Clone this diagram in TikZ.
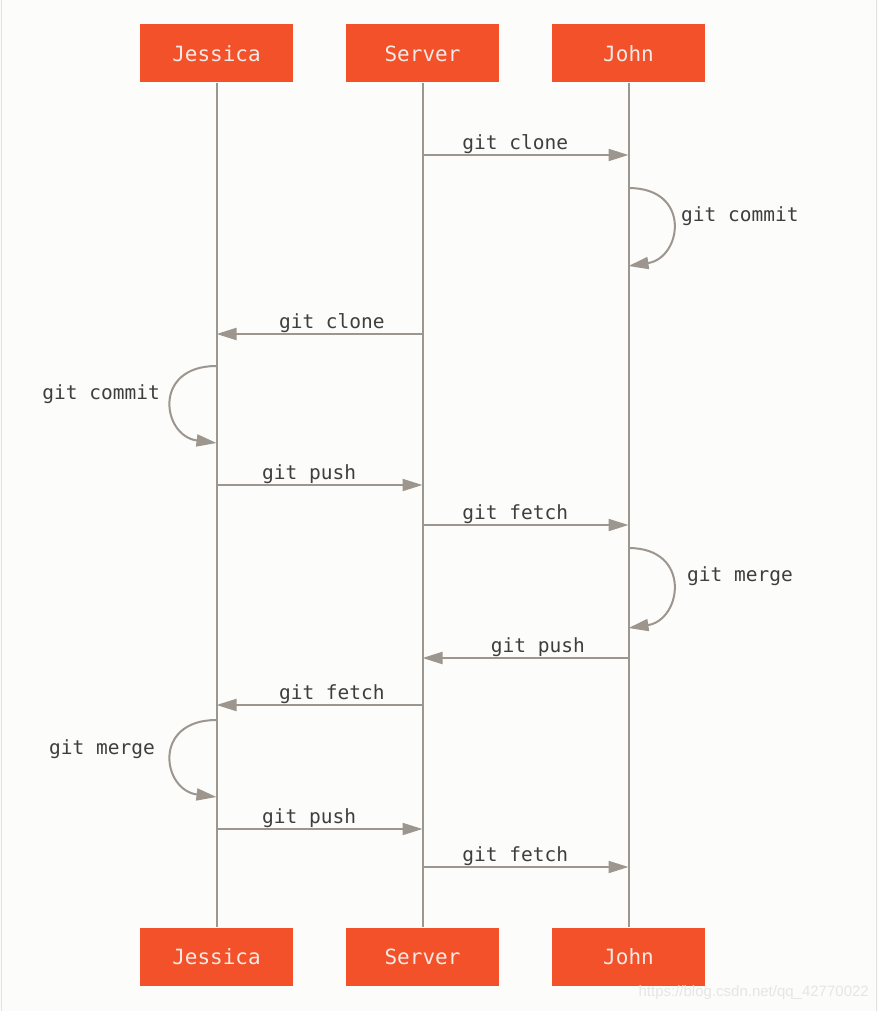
\documentclass[tikz,border=0pt]{standalone}
\usepackage{fontspec}
\setmonofont{DejaVu Sans Mono}
\newfontfamily\wmfont{Liberation Sans}
\usetikzlibrary{arrows.meta}
\definecolor{gitorange}{HTML}{F35129}
\definecolor{linegray}{HTML}{9C968E}
\definecolor{labeltext}{HTML}{3E3E3E}
\definecolor{boxtext}{HTML}{F2EAE6}
\definecolor{bg}{HTML}{FCFCFA}
\definecolor{edgegray}{HTML}{E2E2DE}
\definecolor{wmgray}{HTML}{E6E6E4}
\tikzset{
  actor/.style={fill=gitorange, draw=none, minimum width=153pt, minimum height=58pt,
    inner sep=0pt, text=boxtext, font=\fontsize{21}{24}\selectfont\ttfamily},
  lifeline/.style={draw=linegray, line width=2pt},
  msg/.style={draw=linegray, line width=2pt, -{Triangle[length=20pt,width=12pt]}, fill=none},
  lbl/.style={text=labeltext, font=\fontsize{19.5}{22}\selectfont\ttfamily, inner sep=0.5pt},
}
\begin{document}
\begin{tikzpicture}[x=1pt,y=-1pt]
\fill[bg] (0,0) rectangle (878,1011);
\useasboundingbox (0,0) rectangle (878,1011);
\draw[edgegray, line width=1.2pt] (1.5,0) -- (1.5,1011);
\draw[edgegray, line width=1.2pt] (876.5,0) -- (876.5,1011);

% actors
\node[actor] (jt) at (216.5,53.5) {Jessica};
\node[actor] (st) at (422.5,53.5) {Server};
\node[actor] (ot) at (628.5,53.5) {John};
\node[actor] (jb) at (216.5,956.5) {Jessica};
\node[actor] (sb) at (422.5,956.5) {Server};
\node[actor] (ob) at (628.5,956.5) {John};

% lifelines
\draw[lifeline] (jt.south) -- (jb.north);
\draw[lifeline] (st.south) -- (sb.north);
\draw[lifeline] (ot.south) -- (ob.north);

% message coordinates
\foreach \n/\y in {1/155,2/334,3/485,4/525,5/658,6/705,7/829,8/867}{
  \coordinate (j\n) at (216.5,\y);
  \coordinate (s\n) at (422.5,\y);
  \coordinate (o\n) at (628.5,\y);
}
\coordinate (oc1) at (628.5,188);
\coordinate (oc2) at (628.5,266);
\coordinate (jc1) at (216.5,366);
\coordinate (jc2) at (216.5,443);
\coordinate (om1) at (628.5,548);
\coordinate (om2) at (628.5,628);
\coordinate (jm1) at (216.5,720);
\coordinate (jm2) at (216.5,797);

% messages
\draw[msg] (s1) -- node[lbl, above, pos=0.45] {git clone} (o1);
\draw[msg] (oc1) .. controls (692,188) and (682,258) .. (oc2);
\node[lbl, anchor=west, inner sep=0pt] (lc1) at (681,216) {git commit};
\draw[msg] (s2) -- node[lbl, above, pos=0.44] {git clone} (j2);
\draw[msg] (jc1) .. controls (152,366) and (162,436) .. (jc2);
\node[lbl, anchor=east, inner sep=0pt] (lc2) at (160,394) {git commit};
\draw[msg] (j3) -- node[lbl, above, pos=0.45] {git push} (s3);
\draw[msg] (s4) -- node[lbl, above, pos=0.45] {git fetch} (o4);
\draw[msg] (om1) .. controls (692,548) and (682,620) .. (om2);
\node[lbl, anchor=west, inner sep=0pt] (lm1) at (687,576) {git merge};
\draw[msg] (o5) -- node[lbl, above, pos=0.44] {git push} (s5);
\draw[msg] (s6) -- node[lbl, above, pos=0.44] {git fetch} (j6);
\draw[msg] (jm1) .. controls (152,720) and (162,790) .. (jm2);
\node[lbl, anchor=east, inner sep=0pt] (lm2) at (155,749) {git merge};
\draw[msg] (j7) -- node[lbl, above, pos=0.45] {git push} (s7);
\draw[msg] (s8) -- node[lbl, above, pos=0.45] {git fetch} (o8);

% watermark
\node[anchor=east, inner sep=0pt, text=wmgray, font=\fontsize{15}{18}\selectfont\wmfont] (wm) at (869,993) {https://blog.csdn.net/qq\_42770022};
\end{tikzpicture}
\end{document}
